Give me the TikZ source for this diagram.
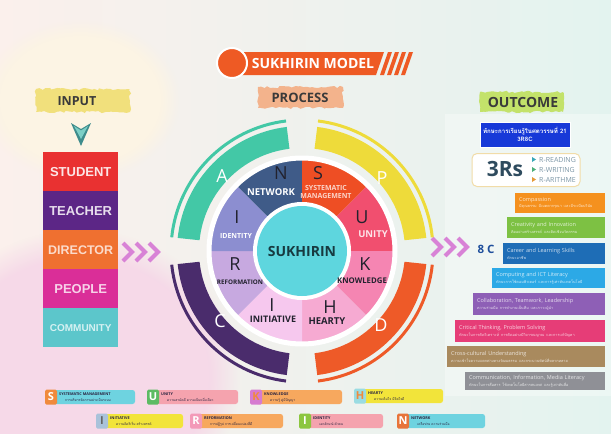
\documentclass[tikz,border=0pt]{standalone}
\usepackage{fontspec}
\setmainfont{Open Sans}
\newfontfamily\thaif[Script=Thai]{Loma}
\newfontfamily\arialf{Liberation Sans}
\usetikzlibrary{decorations.pathmorphing,fadings}
\newcommand\fsz[1]{\fontsize{#1}{#1}\selectfont}
\definecolor{bgL}{HTML}{FBF0EC}
\definecolor{bgR}{HTML}{E3F3EF}
\definecolor{pinkglow}{HTML}{F6D9E8}
\definecolor{creamglow}{HTML}{FCF4E4}
\definecolor{titleor}{HTML}{EE5A24}
\definecolor{procc}{HTML}{F3B38C}
\definecolor{inpc}{HTML}{F1E07C}
\definecolor{outc}{HTML}{C3E26A}
\definecolor{headtxt}{HTML}{3A3A3A}
\definecolor{stud}{HTML}{E93131}
\definecolor{teach}{HTML}{5C2686}
\definecolor{direc}{HTML}{EF7030}
\definecolor{peop}{HTML}{DA2E98}
\definecolor{comm}{HTML}{5CC6CB}
\definecolor{chevc}{HTML}{D882D6}
\definecolor{tealdark}{HTML}{3E8C8C}
\definecolor{teallight}{HTML}{7CCFC6}
\definecolor{arcA}{HTML}{43C8A6}
\definecolor{arcP}{HTML}{EEDB3A}
\definecolor{arcD}{HTML}{EE5A28}
\definecolor{arcC}{HTML}{4A2C6C}
\definecolor{secN}{HTML}{3F5B88}
\definecolor{secS}{HTML}{EE4E24}
\definecolor{secU}{HTML}{F14F6F}
\definecolor{secK}{HTML}{F585B2}
\definecolor{secH}{HTML}{F6AAD2}
\definecolor{secI}{HTML}{F6C8EE}
\definecolor{secR}{HTML}{C7A9E0}
\definecolor{secID}{HTML}{8C8ED0}
\definecolor{lettxt}{HTML}{22222E}
\definecolor{hub}{HTML}{5ED6DE}
\definecolor{hubtxt}{HTML}{173A40}
\definecolor{blueb}{HTML}{1739D8}
\definecolor{rsc}{HTML}{2E4B5E}
\definecolor{rsborder}{HTML}{F1DCA8}
\definecolor{rstxt}{HTML}{7C96A6}
\definecolor{triA}{HTML}{3AA8B8}
\definecolor{triB}{HTML}{4CAF7A}
\definecolor{triC}{HTML}{E59A3A}
\definecolor{eightc}{HTML}{1F4F9C}
\definecolor{cA}{HTML}{F5911E}
\definecolor{cB}{HTML}{7DC143}
\definecolor{cC}{HTML}{1E6DB6}
\definecolor{cD}{HTML}{2CA9E6}
\definecolor{cE}{HTML}{8E5FB6}
\definecolor{cF}{HTML}{E63D77}
\definecolor{cG}{HTML}{A98A5E}
\definecolor{cH}{HTML}{8F9096}
\definecolor{legdark}{HTML}{2A2440}
\definecolor{pCyan}{HTML}{6ED3E0}
\definecolor{pPink}{HTML}{F5A3AE}
\definecolor{pOrange}{HTML}{F7A85E}
\definecolor{pYellow}{HTML}{F2E43A}
\definecolor{iOrange}{HTML}{F08A3C}
\definecolor{iGreen}{HTML}{5DBB63}
\definecolor{iPurple}{HTML}{D67BD0}
\definecolor{iCyan}{HTML}{9ADCE2}
\definecolor{iBlue}{HTML}{A9C2DA}
\definecolor{iPink}{HTML}{F39AB8}
\definecolor{iLime}{HTML}{8CC63F}
\definecolor{iNet}{HTML}{E8743A}

\newcommand\cboxnode[7]{%
  \pgfmathsetmacro\bw{605-#2}\pgfmathsetmacro\bh{#4-#3}\pgfmathsetmacro\tw{605-#2-8}%
  \node[cbox,fill=#5,text=white!78!#5,minimum width=\bw pt,minimum height=\bh pt,text width=\tw pt] (#1) at (#2,#3)
   {#6\\[1pt]{\thaif\fsz{3.8}#7}};}

\newcommand\legitem[9]{%
  \fill[#6,rounded corners=2.5pt] (#2+5,#3-7) rectangle (#7,#3+7);
  \node[legicon,fill=#4] (#1) at (#2+6,#3) {#5};
  \node[legtxt,anchor=south west] (#1t) at (#2+14,#3-1.2) {#8};
  \node[legthai,anchor=north west] (#1h) at (#2+20,#3+1.2) {#9};}

\begin{document}
\begin{tikzpicture}[x=1pt,y=-1pt,
  brush/.style={decorate,decoration={random steps,segment length=3pt,amplitude=1.2pt}},
  head/.style={inner sep=0pt,font=\bfseries\fsz{13},text=headtxt},
  inbox/.style={anchor=north west,minimum width=75pt,minimum height=39pt,inner sep=0pt,font=\arialf\bfseries\fsz{13}},
  seclet/.style={inner sep=0pt,font=\fsz{18},text=lettxt},
  sectxt/.style={inner sep=0pt,font=\bfseries\fsz{8},align=center},
  arclet/.style={inner sep=0pt,font=\fsz{18},text=white},
  cbox/.style={anchor=north west,inner sep=0pt,inner xsep=4pt,align=left,font=\fsz{5.5}},
  rline/.style={inner sep=0pt,font=\fsz{7},anchor=west,text=rstxt},
  legicon/.style={minimum width=12pt,minimum height=15pt,inner sep=0pt,rounded corners=1.5pt,font=\bfseries\fsz{11},text=white},
  legtxt/.style={inner sep=0pt,font=\bfseries\fsz{3.8},text=legdark},
  legthai/.style={inner sep=0pt,font=\thaif\fsz{3.3},text=legdark}
]
\useasboundingbox (0,0) rectangle (611,434);
% background
\shade[left color=bgL,right color=bgR] (0,0) rectangle (611,434);
\fill[pinkglow,path fading=circle with fuzzy edge 20 percent] (-80,230) rectangle (240,520);
\fill[creamglow,path fading=circle with fuzzy edge 20 percent] (-20,20) rectangle (180,180);
\fill[white,opacity=0.35] (445,114) rectangle (611,396);

% title
\fill[titleor] (240,52) -- (384,52) -- (376,75) -- (240,75) -- cycle;
\foreach \i in {0,1,2,3} \fill[titleor] ({388+7*\i},52) -- ({392+7*\i},52) -- ({384+7*\i},75) -- ({380+7*\i},75) -- cycle;
\node[circle,fill=titleor,draw=white,line width=2pt,minimum size=30pt,inner sep=0pt] (tcirc) at (232,63) {};
\node[inner sep=0pt,font=\bfseries\fsz{14},text=white] (title) at (313,63) {SUKHIRIN MODEL};

% headers
\fill[procc,brush] (258,87) rectangle (343,108);
\node[head] (process) at (300,98) {PROCESS};
\fill[inpc,brush] (36,89) rectangle (130,112);
\node[head,font=\bfseries\fsz{12.5}] (input) at (77,101) {INPUT};
\fill[outc,brush] (480,92) rectangle (563,112);
\node[head,font=\bfseries\fsz{14}] (outcome) at (523,102) {OUTCOME};

% down arrowhead
\fill[tealdark] (71,123) -- (81,129) -- (91,123) -- (81,146) -- cycle;
\fill[teallight] (74,126) -- (81,130.5) -- (88,126) -- (81,139) -- cycle;

% input boxes
\node[inbox,fill=stud,text=white!88!stud] (student) at (43,152) {STUDENT};
\node[inbox,fill=teach,text=white!85!teach] (teacher) at (43,191) {TEACHER};
\node[inbox,fill=direc,text=white!75!direc,font=\arialf\bfseries\fsz{12.5}] (director) at (43,230) {DIRECTOR};
\node[inbox,fill=peop,text=white!78!peop] (people) at (43,269) {PEOPLE};
\node[inbox,fill=comm,text=white!75!comm,font=\arialf\bfseries\fsz{10}] (community) at (43,308) {COMMUNITY};

% chevrons
\foreach \x in {123,136,149} \draw[chevc,line width=4pt] (\x,243) -- (\x+9,252) -- (\x,261);
\foreach \x in {432,445,458} \draw[chevc,line width=4pt] (\x,238) -- (\x+9,247) -- (\x,256);

% wheel
\begin{scope}[shift={(302,251)},yscale=-1]
  \foreach \a/\b/\col in {97/174/arcA, 6/83/arcP, -83/-6/arcD, 186/263/arcC} {
    \fill[\col] (\a:103) arc[start angle=\a,end angle=\b,radius=103] -- (\b:125) arc[start angle=\b,end angle=\a,radius=125] -- cycle;
    \draw[\col,line width=3pt] (\a:131) arc[start angle=\a,end angle=\b,radius=131];
  }
  \foreach \a/\col in {90/secN,45/secS,0/secU,-45/secK,-90/secH,-135/secI,180/secR,135/secID}
    \fill[\col] (0,0) -- (\a:91) arc[start angle=\a,end angle=\a+45,radius=91] -- cycle;
  \draw[white,line width=5pt] (0,0) circle[radius=93];
  \fill[white] (0,0) circle[radius=49];
\end{scope}
\node[circle,fill=hub,minimum size=90pt,inner sep=0pt,font=\bfseries\fsz{14},text=hubtxt] (hubn) at (302,251) {SUKHIRIN};

\node[arclet] (la) at (222,176) {A};
\node[arclet] (lp) at (382,178) {P};
\node[arclet] (lc) at (220,321) {C};
\node[arclet] (ld) at (381,325) {D};

\node[seclet] (ln) at (281,173) {N};
\node[sectxt,text=white,font=\bfseries\fsz{9.5}] (tn) at (271,192) {NETWORK};
\node[seclet] (ls) at (318,173) {S};
\node[sectxt,text=white!75!secS,font=\bfseries\fsz{7}] (ts) at (326,192) {SYSTEMATIC\\[1pt]MANAGEMENT};
\node[seclet] (lu) at (362,217) {U};
\node[sectxt,text=white!85!secU,font=\bfseries\fsz{9.5}] (tu) at (373,234) {UNITY};
\node[seclet] (lk) at (365,264) {K};
\node[sectxt,text=lettxt,font=\bfseries\fsz{7.8}] (tk) at (362,281) {KNOWLEDGE};
\node[seclet] (lh) at (330,307) {H};
\node[sectxt,text=lettxt,font=\bfseries\fsz{9.5}] (th) at (327,321) {HEARTY};
\node[seclet] (li) at (272,305) {I};
\node[sectxt,text=lettxt,font=\bfseries\fsz{9}] (ti) at (273,319) {INITIATIVE};
\node[seclet] (lr) at (235,264) {R};
\node[sectxt,text=lettxt,font=\bfseries\fsz{6.3}] (tr) at (240,282) {REFORMATION};
\node[seclet] (lid) at (237,217) {I};
\node[sectxt,text=white,font=\bfseries\fsz{7}] (tid) at (236,236) {IDENTITY};

% outcome: blue box
\node[fill=blueb,draw=white,line width=0.6pt,minimum width=90pt,minimum height=25pt,inner sep=0pt,align=center,text=white,font=\thaif\bfseries\fsz{6.1}] (blue) at (525,134.5) {ทักษะการเรียนรู้ในศตวรรษที่ 21\\[1.5pt]3R8C};
% 3Rs
\node[fill=white,draw=rsborder,line width=1pt,rounded corners=5pt,minimum width=108pt,minimum height=33pt,inner sep=0pt] (rsbox) at (526,170) {};
\node[inner sep=0pt,font=\bfseries\fsz{21},text=rsc] (rs) at (505,169) {3Rs};
\fill[triA] (532,157) -- (536,159.5) -- (532,162) -- cycle;
\node[rline] (r1) at (539,159.5) {R-READING};
\fill[triB] (532,167) -- (536,169.5) -- (532,172) -- cycle;
\node[rline] (r2) at (539,169.5) {R-WRITING};
\fill[triC] (532,177) -- (536,179.5) -- (532,182) -- cycle;
\node[rline] (r3) at (539,179.5) {R-ARITHME};

\node[inner sep=0pt,font=\bfseries\fsz{11.5},text=eightc] (eight) at (486,249) {8 C};

\cboxnode{c1}{515}{193}{213}{cA}{Compassion}{มีคุณธรรม มีเมตตากรุณา และมีระเบียบวินัย}
\cboxnode{c2}{507}{217}{238}{cB}{Creativity and Innovation}{คิดอย่างสร้างสรรค์ และคิดเชิงนวัตกรรม}
\cboxnode{c3}{503}{243}{264}{cC}{Career and Learning Skills}{ทักษะอาชีพ}
\cboxnode{c4}{492}{268}{288}{cD}{Computing and ICT Literacy}{ทักษะการใช้คอมพิวเตอร์ และการรู้เท่าทันเทคโนโลยี}
\cboxnode{c5}{473}{293}{315}{cE}{Collaboration, Teamwork, Leadership}{ความร่วมมือ การทำงานเป็นทีม และภาวะผู้นำ}
\cboxnode{c6}{455}{320}{342}{cF}{Critical Thinking, Problem Solving}{ทักษะในการคิดวิเคราะห์ การคิดอย่างมีวิจารณญาณ และการแก้ปัญหา}
\cboxnode{c7}{447}{346}{367}{cG}{Cross-cultural Understanding}{ความเข้าใจความแตกต่างทางวัฒนธรรม และกระบวนทัศน์ที่หลากหลาย}
\cboxnode{c8}{465}{372}{390}{cH}{Communication, Information, Media Literacy}{ทักษะในการสื่อสาร ใช้เทคโนโลยีสารสนเทศ และรู้เท่าทันสื่อ}

% legend
\legitem{gS}{45}{397}{iOrange}{S}{pCyan}{135}{SYSTEMATIC MANAGEMENT}{การบริหารจัดการอย่างเป็นระบบ}
\legitem{gU}{147}{397}{iGreen}{U}{pPink}{238}{UNITY}{ความสามัคคี ความเป็นหนึ่งเดียว}
\legitem{gK}{250}{397}{iPurple}{{\color{iOrange}K}}{pOrange}{342}{KNOWLEDGE}{ความรู้ คู่มีปัญญา}
\legitem{gH}{354}{396}{iCyan}{{\color{iOrange}H}}{pYellow}{443}{HEARTY}{ความเต็มใจ มีจิตใจดี}
\legitem{gI}{96}{421}{iBlue}{{\color{white!40!black}I}}{pYellow}{183}{INITIATIVE}{ความคิดริเริ่ม สร้างสรรค์}
\legitem{gR}{190}{421}{iPink}{R}{pOrange}{283}{REFORMATION}{การปฏิรูป การเปลี่ยนแปลงที่ดี}
\legitem{gID}{299}{421}{iLime}{I}{pPink}{383}{IDENTITY}{เอกลักษณ์ ตัวตน}
\legitem{gN}{397}{421}{iNet}{N}{pCyan}{485}{NETWORK}{เครือข่าย ความร่วมมือ}
\end{tikzpicture}
\end{document}
